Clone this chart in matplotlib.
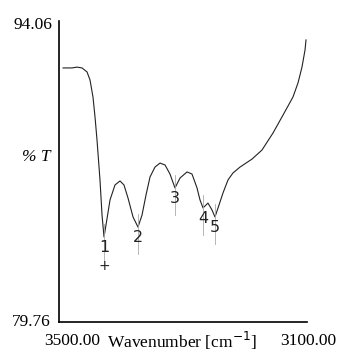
import matplotlib
matplotlib.use("Agg")
import matplotlib.pyplot as plt

wavenumber = [3493.5, 3479.0, 3471.0, 3462.9, 3454.8, 3450.0, 3445.2, 3441.9, 3438.7, 3433.9,
              3430.6, 3427.4, 3424.2, 3417.7, 3409.7, 3401.6, 3395.2, 3388.7, 3380.6, 3372.6,
              3366.1, 3359.7, 3353.2, 3345.2, 3337.1, 3329.0, 3321.0, 3312.9, 3304.8, 3293.5,
              3285.5, 3277.4, 3272.6, 3267.7, 3259.7, 3253.2, 3248.4, 3241.9, 3235.5, 3227.4,
              3219.4, 3208.1, 3188.7, 3172.6, 3154.8, 3138.7, 3122.6, 3114.5, 3108.1, 3103.2,
              3101.6]
transmittance = [91.83, 91.83, 91.87, 91.83, 91.64, 91.26, 90.45, 89.50, 88.41, 86.51,
                 84.84, 83.80, 84.37, 85.56, 86.27, 86.46, 86.27, 85.65, 84.75, 84.27,
                 84.84, 85.79, 86.65, 87.12, 87.31, 87.22, 86.79, 86.13, 86.60, 86.89,
                 86.79, 86.13, 85.56, 85.18, 85.41, 85.08, 84.75, 85.32, 85.89, 86.51,
                 86.84, 87.12, 87.50, 87.93, 88.74, 89.59, 90.45, 91.12, 91.87, 92.68,
                 93.16]
peak_labels = ["1", "2", "3", "4", "5"]
peak_x = [3427.4, 3372.6, 3312.9, 3267.7, 3248.4]
peak_y = [83.80, 84.27, 86.13, 85.18, 84.75]

x_ticks = [3500.00, 3100.00]
y_ticks = [79.76, 94.06]

fig = plt.figure(figsize=(3.42, 3.56), dpi=100)
ax = fig.add_axes([59/342, 1-322/356, (307-59)/342, (322-21)/356])
ax.plot(wavenumber, transmittance, color="#222222", lw=0.8)
ax.set_xlim(3500, 3100)
ax.set_ylim(79.76, 94.06)

for lab, px, py in zip(peak_labels, peak_x, peak_y):
    ax.plot([px, px], [py + 0.6, py - 1.3], color="#aaaaaa", lw=0.6)
    ax.text(px, py - 0.15, lab, ha="center", va="top", fontsize=11.5,
            family="DejaVu Sans", color="#222222")
ax.text(peak_x[0], peak_y[0] - 1.05, "+", ha="center", va="top", fontsize=10,
        family="DejaVu Sans", color="#222222")

for s in ["top", "right"]:
    ax.spines[s].set_visible(False)
ax.spines["left"].set_linewidth(1.2)
ax.spines["bottom"].set_linewidth(1.2)
ax.set_xticks([])
ax.set_yticks([])

serif = "Liberation Serif"
fs = 12.5
fig.text(52/342, 1-25/356, f"{y_ticks[1]:.2f}", ha="right", va="center", fontsize=fs, family=serif)
fig.text(51/342, 1-322/356, f"{y_ticks[0]:.2f}", ha="right", va="center", fontsize=fs, family=serif)
fig.text(72/342, 1-341/356, f"{x_ticks[0]:.2f}", ha="center", va="center", fontsize=fs, family=serif)
fig.text(308/342, 1-341/356, f"{x_ticks[1]:.2f}", ha="center", va="center", fontsize=fs, family=serif)
fig.text(182/342, 1-341/356, "Wavenumber [cm$^{-1}$]", ha="center", va="center",
         fontsize=fs, family=serif)
fig.text(36/342, 1-157/356, "% T", ha="center", va="center", fontsize=fs,
         family=serif, style="italic")

fig.savefig("out.png", dpi=100)
